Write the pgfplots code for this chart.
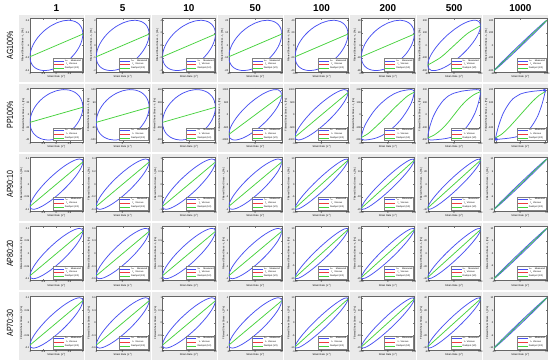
\documentclass[border=0pt]{standalone}
\usepackage{pgfplots}
\pgfplotsset{compat=1.18}
\usepackage{pgfplotstable}
\usepackage{fontspec}
\setmainfont{Liberation Sans}

\definecolor{mblue}{RGB}{72,80,242}
\definecolor{mgreen}{RGB}{70,210,60}
\definecolor{mred}{RGB}{240,60,60}
\definecolor{panel}{RGB}{234,234,234}

\newcommand\sups[1]{\raisebox{0.9pt}{\fontsize{1.7}{2}\selectfont #1}}
\newcommand\subs[1]{\raisebox{-0.4pt}{\fontsize{1.6}{1.8}\selectfont #1}}

% ---------- blue loops (normalised strain rate x, normalised stress y) ----------
\pgfplotstableread{
x y
0 .89
-.259 .743
-.5 .546
-.707 .311
-.866 .055
-.966 -.204
-1 -.45
-.966 -.666
-.866 -.835
-.707 -.947
-.5 -.996
-.259 -.977
0 -.89
.259 -.743
.5 -.546
.707 -.311
.866 -.055
.966 .204
1 .45
.966 .666
.866 .835
.707 .947
.5 .996
.259 .977
0 .89
}\Sone
\pgfplotstableread{
x y
0 .63
-.259 .407
-.5 .156
-.707 -.106
-.866 -.360
-.966 -.590
-1 -.78
-.966 -.916
-.866 -.990
-.707 -.996
-.5 -.936
-.259 -.811
0 -.63
.259 -.407
.5 -.156
.707 .106
.866 .360
.966 .590
1 .78
.966 .916
.866 .990
.707 .996
.5 .936
.259 .811
0 .63
}\Stwo
\pgfplotstableread{
x y
0 .05
-.259 -.211
-.5 -.457
-.707 -.671
-.866 -.840
-.966 -.952
-1 -.999
-.966 -.978
-.866 -.890
-.707 -.741
-.5 -.543
-.259 -.307
0 -.05
.259 .211
.5 .457
.707 .671
.866 .840
.966 .952
1 .999
.966 .978
.866 .890
.707 .741
.5 .543
.259 .307
0 .05
}\Sthree
\pgfplotstableread{
x y
0 .954
-.259 .844
-.5 .676
-.707 .463
-.866 .217
-.966 -.043
-1 -.30
-.966 -.537
-.866 -.737
-.707 -.887
-.5 -.976
-.259 -1.0
0 -.954
.259 -.844
.5 -.676
.707 -.463
.866 -.217
.966 .043
1 .30
.966 .537
.866 .737
.707 .887
.5 .976
.259 1.0
0 .954
}\Sfour
\pgfplotstableread{
x y
0 .475
-.259 .231
-.5 -.029
-.707 -.286
-.866 -.524
-.966 -.727
-1 -.88
-.966 -.973
-.866 -1.0
-.707 -.958
-.5 -.851
-.259 -.687
0 -.475
.259 -.231
.5 .029
.707 .286
.866 .524
.966 .727
1 .88
.966 .973
.866 1.0
.707 .958
.5 .851
.259 .687
0 .475
}\Sfive
\pgfplotstableread{
x y
0 .31
-.259 .053
-.5 -.207
-.707 -.453
-.866 -.668
-.966 -.838
-1 -.95
-.966 -.998
-.866 -.978
-.707 -.891
-.5 -.743
-.259 -.545
0 -.31
.259 -.053
.5 .207
.707 .453
.866 .668
.966 .838
1 .95
.966 .998
.866 .978
.707 .891
.5 .743
.259 .545
0 .31
}\Ssix
\pgfplotstableread{
x y
0 .68
-.25 .46
-.5 .18
-.72 -.15
-.88 -.45
-.96 -.7
-1 -.9
-.98 -.97
-.9 -1.0
-.75 -.99
-.5 -.94
-.25 -.84
0 -.68
.25 -.46
.5 -.18
.72 .15
.88 .45
.96 .7
1 .9
.98 .97
.9 1.0
.75 .99
.5 .94
.25 .84
0 .68
}\Psix
\pgfplotstableread{
x y
0 .86
-.2 .76
-.4 .58
-.6 .3
-.78 -.05
-.9 -.4
-.97 -.7
-1 -.92
-.97 -.98
-.85 -1
-.6 -.98
-.3 -.94
0 -.86
.2 -.76
.4 -.58
.6 -.3
.78 .05
.9 .4
.97 .7
1 .92
.97 .98
.85 1
.6 .98
.3 .94
0 .86
}\Pseven
\pgfplotstableread{
x y
0 .84
-.3 .65
-.5 .4
-.7 .05
-.85 -.35
-.95 -.7
-.99 -.88
-1.02 -.97
-1.0 -1.03
-.95 -1.03
-.93 -.98
-.97 -.95
-1.01 -.99
-.97 -1.0
-.8 -.98
-.5 -.95
-.2 -.9
0 -.84
.3 -.65
.5 -.4
.7 -.05
.85 .35
.95 .7
.99 .88
1.02 .97
1.0 1.03
.95 1.03
.93 .98
.97 .95
1.01 .99
.97 1.0
.8 .98
.5 .95
.2 .9
0 .84
}\Peight
% ---------- green dashpot curves ----------
\pgfplotstableread{
x y
-1 -.45
1 .45
}\Gone
\pgfplotstableread{
x y
-1 -.78
1 .78
}\Gtwo
\pgfplotstableread{
x y
-1 -.78
-.5 -.47
0 0
.5 .47
1 .78
}\Gtwoc
\pgfplotstableread{
x y
-1 -.999
1 .999
}\Gthree
\pgfplotstableread{
x y
-1 -.30
1 .30
}\Gfour
\pgfplotstableread{
x y
-1 -.88
1 .88
}\Gfive
\pgfplotstableread{
x y
-1 -.95
1 .95
}\Gsix
\pgfplotstableread{
x y
-1 -.9
-.75 -.75
-.5 -.52
-.25 -.27
0 0
.25 .27
.5 .52
.75 .75
1 .9
}\GPsix
\pgfplotstableread{
x y
-1 -.92
-.75 -.8
-.5 -.6
-.25 -.33
0 0
.25 .33
.5 .6
.75 .8
1 .92
}\GPseven
\pgfplotstableread{
x y
-1 -.93
-.75 -.78
-.5 -.55
-.25 -.28
0 0
.25 .28
.5 .55
.75 .78
1 .93
}\GPeight

\pgfplotsset{cellstyle/.style={
  scale only axis, width=53bp, height=54bp,
  xmin=-1, xmax=1, ymin=-1.07, ymax=1.07,
  axis line style={black!60, line width=0.25pt},
  tick style={black!55, line width=0.2pt},
  major tick length=1.2pt,
  tick label style={font=\fontsize{2.5}{2.9}\selectfont, inner sep=0.4pt},
  xtick={-1,0,1}, ytick={-1,-0.5,0,0.5,1},
  xlabel={Strain Rate \ [s\sups{-1}]},
  ylabel={Filtered Shear Stress  -  τ\subs{v} [Pa]},
  every axis x label/.style={at={(ticklabel cs:0.5)}, anchor=north, font=\fontsize{2.5}{2.9}\selectfont, inner sep=0.5pt},
  every axis y label/.style={at={(ticklabel cs:0.5)}, rotate=90, anchor=south, font=\fontsize{2.5}{2.9}\selectfont, inner sep=0.5pt},
  axis background/.style={fill=white},
  legend style={at={(0.985,0.02)}, anchor=south east, font=\fontsize{2.3}{2.5}\selectfont,
    draw=black!50, line width=0.2pt, inner sep=0.4pt, row sep=-0.5pt, fill=white,
    nodes={inner sep=0.6pt}},
  legend cell align=left,
  legend image code/.code={\draw[##1, line width=0.85pt] (0bp,0bp)--(10bp,0bp);},
}}

\newcommand\cell[7]{%
  \pgfmathsetmacro\px{19+66.4*#1}%
  \pgfmathsetmacro\py{15+69.5*#2}%
  \pgfmathsetmacro\pxr{\px+65.4}%
  \pgfmathsetmacro\pyb{\py+67.5}%
  \pgfmathsetmacro\ax{\px+11}%
  \pgfmathsetmacro\ay{\py+3.5}%
  \fill[panel] (\px bp,-\py bp) rectangle (\pxr bp,-\pyb bp);
  \begin{axis}[cellstyle, at={(\ax bp,-\ay bp)}, anchor=north west,
      xticklabels={#5}, yticklabels={#6}, #7]
    \addplot[mblue, line width=0.75pt, smooth] table {#3};
    \addlegendimage{mred, line width=0.75pt}
    \addplot[mgreen, line width=0.75pt, smooth] table {#4};
    \legend{τ\subs{tot} \ \ \ \ Measured, \ \ τ\subs{v} \ Viscous, Dashpot (1/2)}
  \end{axis}%
}

\begin{document}
\begin{tikzpicture}
\path (0bp,0bp) rectangle (550bp,-363bp);

% column headers
\foreach \t [count=\j from 0] in {1,5,10,50,100,200,500,1000}{
  \pgfmathsetmacro\hx{56.5+66.4*\j}
  \node[font=\fontsize{10}{12}\selectfont\bfseries] at (\hx bp,-8bp) {\t};
}
% row labels
\foreach \t [count=\i from 0] in {AG100\%,PP100\%,AP90:10,AP80:20,AP70:30}{
  \pgfmathsetmacro\hy{45.5+69.5*\i}
  \node[rotate=90, font=\fontsize{9}{11}\selectfont, inner sep=0pt] at (10bp,-\hy bp) {\scalebox{0.78}[1]{\t}};
}

% ---- AG100% ----
\cell{0}{0}{\Sone}{\Gone}{-1,-0.5,0,0.5,1}{-0.4,-0.2,0,0.2,0.4}{xtick={-1,-0.5,0,0.5,1}}
\cell{1}{0}{\Sone}{\Gone}{-5,0,5}{-2,-1,0,1,2}{}
\cell{2}{0}{\Sone}{\Gone}{-10,0,10}{-4,-2,0,2,4}{}
\cell{3}{0}{\Sone}{\Gone}{-50,0,50}{-20,-10,0,10,20}{}
\cell{4}{0}{\Sone}{\Gone}{-100,0,100}{-40,-20,0,20,40}{}
\cell{5}{0}{\Sone}{\Gone}{-200,0,200}{-80,-40,0,40,80}{}
\cell{6}{0}{\Stwo}{\Gtwoc}{-500,0,500}{-200,-100,0,100,200}{}
\cell{7}{0}{\Sthree}{\Gthree}{-1000,0,1000}{-400,-200,0,200,400}{}
% ---- PP100% ----
\cell{0}{1}{\Sfour}{\Gfour}{-1,-0.5,0,0.5,1}{-40,-20,0,20,40}{xtick={-1,-0.5,0,0.5,1}}
\cell{1}{1}{\Sfour}{\Gfour}{-5,0,5}{-100,-50,0,50,100}{}
\cell{2}{1}{\Sfour}{\Gfour}{-10,0,10}{-400,-200,0,200,400}{}
\cell{3}{1}{\Stwo}{\Gtwo}{-50,0,50}{-1000,-500,0,500,1000}{}
\cell{4}{1}{\Sfive}{\Gfive}{-100,0,100}{-1000,-500,0,500,1000}{}
\cell{5}{1}{\Psix}{\GPsix}{-200,0,200}{-200,-100,0,100,200}{}
\cell{6}{1}{\Pseven}{\GPseven}{-500,0,500}{-200,-100,0,100,200}{}
\cell{7}{1}{\Peight}{\GPeight}{-10,0,10}{-200,-100,0,100,200}{xmin=-1.07,xmax=1.07,ymin=-1.09,ymax=1.09}
% ---- AP90:10 ----
\cell{0}{2}{\Sfive}{\Gfive}{-1,-0.5,0,0.5,1}{-0.1,-0.05,0,0.05,0.1}{xtick={-1,-0.5,0,0.5,1}}
\cell{1}{2}{\Sfive}{\Gfive}{-5,0,5}{-0.4,-0.2,0,0.2,0.4}{}
\cell{2}{2}{\Sfive}{\Gfive}{-10,0,10}{-1,-0.5,0,0.5,1}{}
\cell{3}{2}{\Sfive}{\Gfive}{-50,0,50}{-4,-2,0,2,4}{}
\cell{4}{2}{\Ssix}{\Gsix}{-100,0,100}{-10,-5,0,5,10}{}
\cell{5}{2}{\Ssix}{\Gsix}{-200,0,200}{-20,-10,0,10,20}{}
\cell{6}{2}{\Ssix}{\Gsix}{-500,0,500}{-40,-20,0,20,40}{}
\cell{7}{2}{\Sthree}{\Gthree}{-10,0,10}{-10,-5,0,5,10}{}
% ---- AP80:20 ----
\cell{0}{3}{\Sfive}{\Gfive}{-1,-0.5,0,0.5,1}{-0.1,-0.05,0,0.05,0.1}{xtick={-1,-0.5,0,0.5,1}}
\cell{1}{3}{\Sfive}{\Gfive}{-5,0,5}{-0.6,-0.3,0,0.3,0.6}{}
\cell{2}{3}{\Sfive}{\Gfive}{-10,0,10}{-1,-0.5,0,0.5,1}{}
\cell{3}{3}{\Sfive}{\Gfive}{-50,0,50}{-4,-2,0,2,4}{}
\cell{4}{3}{\Ssix}{\Gsix}{-100,0,100}{-10,-5,0,5,10}{}
\cell{5}{3}{\Ssix}{\Gsix}{-200,0,200}{-20,-10,0,10,20}{}
\cell{6}{3}{\Ssix}{\Gsix}{-500,0,500}{-40,-20,0,20,40}{}
\cell{7}{3}{\Sthree}{\Gthree}{-10,0,10}{-10,-5,0,5,10}{}
% ---- AP70:30 ----
\cell{0}{4}{\Sfive}{\Gfive}{-1,-0.5,0,0.5,1}{-0.1,-0.05,0,0.05,0.1}{xtick={-1,-0.5,0,0.5,1}}
\cell{1}{4}{\Sfive}{\Gfive}{-5,0,5}{-0.6,-0.3,0,0.3,0.6}{}
\cell{2}{4}{\Sfive}{\Gfive}{-10,0,10}{-1,-0.5,0,0.5,1}{}
\cell{3}{4}{\Sfive}{\Gfive}{-50,0,50}{-4,-2,0,2,4}{}
\cell{4}{4}{\Ssix}{\Gsix}{-100,0,100}{-10,-5,0,5,10}{}
\cell{5}{4}{\Ssix}{\Gsix}{-200,0,200}{-20,-10,0,10,20}{}
\cell{6}{4}{\Ssix}{\Gsix}{-500,0,500}{-40,-20,0,20,40}{}
\cell{7}{4}{\Sthree}{\Gthree}{-10,0,10}{-10,-5,0,5,10}{}
\end{tikzpicture}
\end{document}
